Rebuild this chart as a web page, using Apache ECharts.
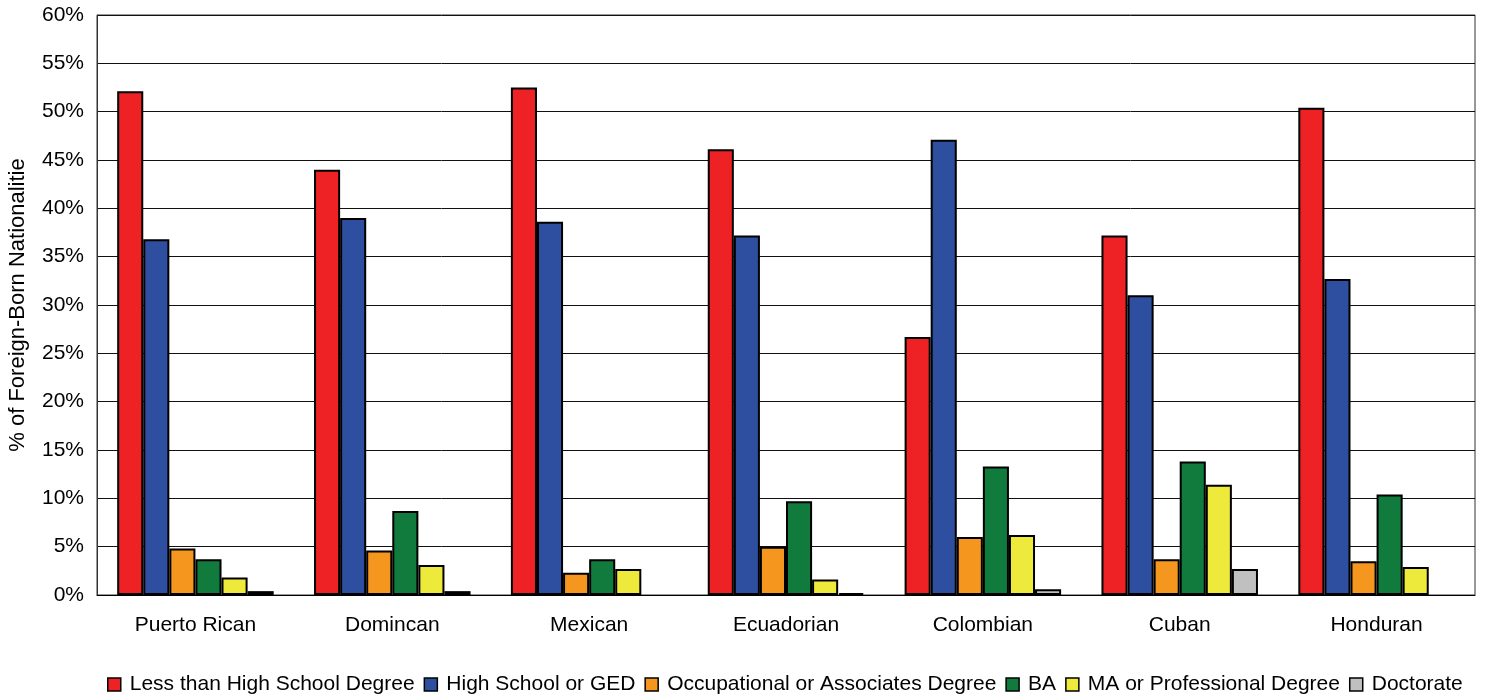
<!DOCTYPE html>
<html>
<head>
<meta charset="utf-8">
<script src="https://cdn.jsdelivr.net/npm/echarts@6/dist/echarts.min.js"></script>
<style>html,body{margin:0;padding:0;background:#fff;}#c{width:1486px;height:696px;}</style>
</head>
<body>
<div id="c"></div>
<script>
const categories = ['Puerto Rican', 'Domincan', 'Mexican', 'Ecuadorian', 'Colombian', 'Cuban', 'Honduran'];
const seriesNames = ['Less than High School Degree', 'High School or GED', 'Occupational or Associates Degree', 'BA', 'MA or Professional Degree', 'Doctorate'];
const lessThanHS = [52.1, 44.0, 52.5, 46.1, 26.7, 37.2, 50.4];
const highSchool = [36.8, 39.0, 38.6, 37.2, 47.1, 31.0, 32.7];
const occupational = [4.8, 4.6, 2.3, 5.0, 6.0, 3.7, 3.5];
const ba = [3.7, 8.7, 3.7, 9.7, 13.3, 13.8, 10.4];
const ma = [1.8, 3.1, 2.7, 1.6, 6.2, 11.4, 2.9];
const doctorate = [0.4, 0.4, 0, 0.2, 0.6, 2.7, 0];
const yTicks = [0, 5, 10, 15, 20, 25, 30, 35, 40, 45, 50, 55, 60];

const colors = ['#EE2224', '#2E4FA0', '#F5971F', '#117A3D', '#EEEA3C', '#C0C0C0'];
const dataSets = [lessThanHS, highSchool, occupational, ba, ma, doctorate];
const font = 'Liberation Sans, Arial, sans-serif';

const chart = echarts.init(document.getElementById('c'), null, {renderer: 'canvas'});
chart.setOption({
  animation: false,
  backgroundColor: '#fff',
  grid: {left: 97, right: 11, top: 15, bottom: 101, show: true, borderColor: '#333', borderWidth: 1, outerBoundsMode: 'none', containLabel: false},
  legend: {
    bottom: 1, left: 107, padding: 0,
    itemWidth: 13, itemHeight: 13, itemGap: 9,
    textStyle: {fontFamily: font, fontSize: 21, color: '#000', padding: [0, 0, 0, 4]},
    data: seriesNames.map((n, i) => ({name: n, icon: 'rect', itemStyle: {color: colors[i], borderColor: '#000', borderWidth: 1.5}}))
  },
  xAxis: {
    type: 'category', data: categories,
    axisLine: {lineStyle: {color: '#000', width: 1}},
    axisTick: {show: false},
    axisLabel: {fontFamily: font, fontSize: 21, color: '#000', margin: 20}
  },
  yAxis: {
    type: 'value', min: 0, max: 60, interval: 5,
    name: '% of Foreign-Born Nationalities',
    nameLocation: 'middle', nameGap: 68, nameRotate: 90,
    nameTruncate: {maxWidth: 300, ellipsis: '\u200B'},
    nameTextStyle: {fontFamily: font, fontSize: 22, color: '#000'},
    axisLine: {show: true, lineStyle: {color: '#333', width: 1}},
    axisTick: {show: false},
    axisLabel: {fontFamily: font, fontSize: 21, color: '#000', margin: 13, formatter: v => yTicks.includes(v) ? v + '%' : ''},
    splitLine: {lineStyle: {color: '#111', width: 1}}
  },
  series: dataSets.map((d, i) => ({
    name: seriesNames[i], type: 'bar', data: d.map(v => v === 0 ? '-' : v),
    barGap: '0%', barCategoryGap: '20.5%',
    itemStyle: {color: colors[i], borderColor: '#000', borderWidth: 2}
  }))
});
</script>
</body>
</html>
